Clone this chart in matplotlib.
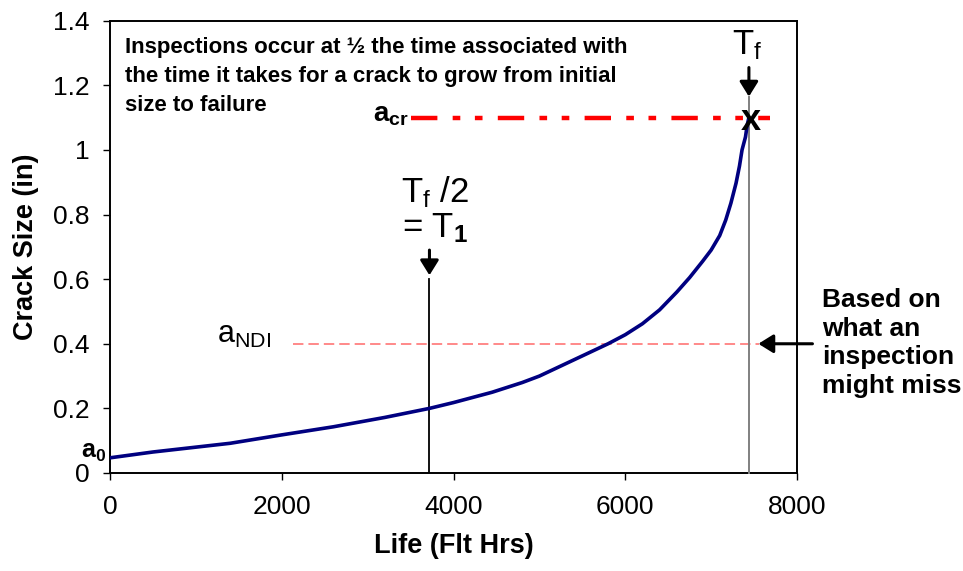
import matplotlib
matplotlib.use("Agg")
import matplotlib.pyplot as plt

# ---- data ----
life_hrs = [0, 500, 1000, 1400, 2000, 2600, 3200, 3720, 4000, 4450, 4800,
            5000, 5200, 5400, 5600, 5800, 6000, 6200, 6400, 6600, 6750,
            6900, 7000, 7100, 7170, 7230, 7290, 7330, 7360, 7400, 7420, 7440]
crack_in = [0.047, 0.065, 0.080, 0.092, 0.118, 0.143, 0.172, 0.200, 0.218,
            0.250, 0.280, 0.300, 0.325, 0.350, 0.375, 0.400, 0.428, 0.462,
            0.505, 0.560, 0.605, 0.655, 0.690, 0.735, 0.783, 0.835, 0.897,
            0.950, 1.000, 1.040, 1.077, 1.100]
t_fail = 7440
t_insp = 3720
a_cr = 1.1
a_ndi = 0.4
t1_line_top = 0.6
tf_line_top = 1.165
acr_range = [3500, 7680]
andi_range = [2130, 7560]
x_ticks = [0, 2000, 4000, 6000, 8000]
y_ticks = [0, 0.2, 0.4, 0.6, 0.8, 1.0, 1.2, 1.4]
y_tick_labels = ["0", "0.2", "0.4", "0.6", "0.8", "1", "1.2", "1.4"]
note_lines = ["Inspections occur at ½ the time associated with",
              "the time it takes for a crack to grow from initial",
              "size to failure"]

plt.rcParams['font.family'] = ['Liberation Sans', 'DejaVu Sans']
plt.rcParams['mathtext.fontset'] = 'custom'
plt.rcParams['mathtext.rm'] = 'Liberation Sans'
plt.rcParams['mathtext.bf'] = 'Liberation Sans:bold'
plt.rcParams['mathtext.it'] = 'Liberation Sans:italic'
plt.rcParams['lines.scale_dashes'] = False

W, H = 963, 571
fig = plt.figure(figsize=(W / 100, H / 100), dpi=100)
ax = fig.add_axes([110 / W, 1 - 473 / H, (797 - 110) / W, (473 - 20.7) / H])


def px(x, y):
    return (x / W, 1 - y / H)


# curve
ax.plot(life_hrs, crack_in, color='#000080', lw=2.6, solid_joinstyle='round',
        solid_capstyle='round', zorder=4)

# vertical lines
ax.plot([t_insp, t_insp], [0, t1_line_top], color='black', lw=1.3, zorder=3)
ax.plot([t_fail, t_fail], [0, tf_line_top], color='#808080', lw=1.4, zorder=3, clip_on=False)

# a_cr dash-dot-dot line
ax.plot(acr_range, [a_cr, a_cr], color='#ff0000', lw=3.2,
        dashes=(19, 11, 5.5, 10.5, 5.5, 11), dash_capstyle='butt', zorder=2, clip_on=False)
# a_NDI dashed line
ax.plot(andi_range, [a_ndi, a_ndi], color='#ff6a6a', lw=1.1,
        dashes=(7.5, 3.6), zorder=2, clip_on=False)

ax.set_xlim(0, 8000)
ax.set_ylim(0, 1.4)
ax.set_xticks(x_ticks)
ax.set_yticks(y_ticks)
ax.set_yticklabels(y_tick_labels)
ax.tick_params(axis='both', direction='out', length=5, width=1.0, labelsize=19)
ax.tick_params(axis='x', pad=11)
ax.tick_params(axis='y', pad=10)
for s in ax.spines.values():
    s.set_linewidth(1.4)

ax.set_xlabel('Life (Flt Hrs)', fontsize=19.5, fontweight='bold', labelpad=10)
ax.set_ylabel('Crack Size (in)', fontsize=19.5, fontweight='bold', labelpad=10)

# arrows
arrow_kw = dict(arrowstyle='-|>,head_length=0.45,head_width=0.28', color='black',
                lw=2.2, shrinkA=0, shrinkB=0, mutation_scale=20)
ax.annotate('', xy=(t_fail, 1.165), xytext=(t_fail, 1.255),
            arrowprops=arrow_kw, annotation_clip=False)
ax.annotate('', xy=(t_insp, 0.612), xytext=(t_insp, 0.69),
            arrowprops=arrow_kw, annotation_clip=False)
ax.annotate('', xy=(7550, a_ndi), xytext=(8180, a_ndi),
            arrowprops=arrow_kw, annotation_clip=False)

# texts
for i, line in enumerate(note_lines):
    fig.text(*px(125, 53 + 29 * i), line, fontsize=16, fontweight='bold',
             va='baseline', ha='left')
fig.text(*px(822, 288), 'Based on\nwhat an\ninspection\nmight miss',
         fontsize=19, fontweight='bold', va='top', ha='left', linespacing=1.24)
fig.text(*px(747, 54), r'T$_{\mathregular{f}}$', fontsize=25, ha='center', va='baseline')
fig.text(*px(435, 202), r'T$_{\mathregular{f}}$ /2', fontsize=25, ha='center', va='baseline')
fig.text(*px(435, 237), r'= T$_{\mathbf{1}}$', fontsize=25, ha='center', va='baseline')
fig.text(*px(373, 122), r'a$_{\mathbf{cr}}$', fontsize=20, fontweight='bold', ha='left', va='baseline')
fig.text(*px(217, 343), r'a$_{\mathregular{NDI}}$', fontsize=22, ha='left', va='baseline')
fig.text(*px(81, 458), r'a$_{\mathbf{0}}$', fontsize=18, fontweight='bold', ha='left', va='baseline')
fig.text(*px(751, 130), 'x', fontsize=26, fontweight='bold', ha='center', va='baseline')

fig.savefig('out.png', dpi=100)
